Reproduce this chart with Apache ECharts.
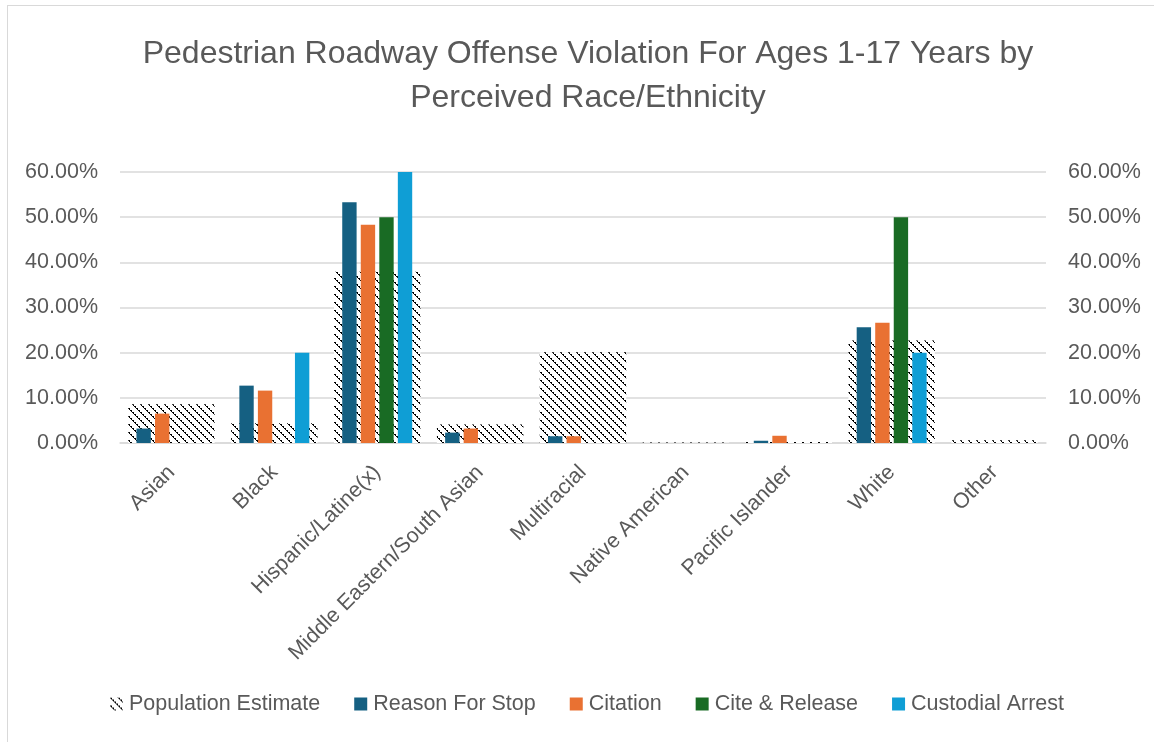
<!DOCTYPE html>
<html><head><meta charset="utf-8">
<script src="https://cdn.jsdelivr.net/npm/echarts@6/dist/echarts.min.js"></script>
<style>
html,body{margin:0;padding:0;background:#fff;overflow:hidden;width:1154px;height:742px}
#frame{position:absolute;left:7px;top:5px;width:1300px;height:900px;border:1px solid #d9d9d9;box-sizing:border-box}
#c{position:absolute;left:0;top:0;width:1154px;height:742px}
</style>
</head><body><div id="frame"></div><div id="c"></div>
<script>
const categories = ['Asian','Black','Hispanic/Latine(x)','Middle Eastern/South Asian','Multiracial','Native American','Pacific Islander','White','Other'];
const populationEstimate = [8.6, 4.4, 37.9, 4.1, 20.1, 0.1, 0.2, 22.7, 0.6];
const reasonForStop     = [3.2, 12.7, 53.3, 2.3, 1.5, 0, 0.5, 25.6, 0];
const citation          = [6.5, 11.6, 48.3, 3.2, 1.5, 0, 1.6, 26.6, 0];
const citeRelease       = [0, 0, 50, 0, 0, 0, 0, 50, 0];
const custodialArrest   = [0, 20, 60, 0, 0, 0, 0, 20, 0];
const seriesNames = ['Population Estimate','Reason For Stop','Citation','Cite & Release','Custodial Arrest'];
const titleText = 'Pedestrian Roadway Offense Violation For Ages 1-17 Years by\nPerceived Race/Ethnicity';

// hatch pattern (dark downward diagonal)
const pc = document.createElement('canvas');
pc.width = 8; pc.height = 8;
const ctx = pc.getContext('2d');
ctx.fillStyle = '#fff'; ctx.fillRect(0,0,8,8);
ctx.fillStyle = '#000';
for (let i = 0; i < 8; i++) {
  ctx.fillRect(i, i, 1, 1);
  if (i % 2 === 0) ctx.fillRect((i + 1) % 8, i, 1, 1);
}
const hatch = { image: pc, repeat: 'repeat' };

const font = 'Liberation Sans, Arial, sans-serif';
const txt = '#595959';
const chart = echarts.init(document.getElementById('c'), null, {renderer:'canvas'});
const yAxisCommon = {
  type: 'value', min: 0, max: 60, interval: 10,
  axisLine: {show:false}, axisTick: {show:false},
  axisLabel: {color: txt, fontSize: 21.5, fontFamily: font, formatter: v => v.toFixed(2) + '%', margin: 22}
};
chart.setOption({
  animation: false,
  textStyle: {fontFamily: font},
  title: {
    text: titleText, left: 583, top: 27, textAlign: 'center',
    textStyle: {fontSize: 32, fontWeight: 'normal', color: txt, fontFamily: font, lineHeight: 44, align: 'center'}
  },
  legend: {
    data: seriesNames, bottom: 22, left: 105, itemWidth: 13, itemHeight: 13, itemGap: 34,
    icon: 'rect',
    textStyle: {color: txt, fontSize: 21.5, fontFamily: font, padding: [0, 0, 0, 1]}
  },
  grid: {left: 120, right: 108, top: 172, bottom: 299, containLabel: false},
  xAxis: [
    {type: 'category', data: categories,
     axisLine: {show: true, lineStyle: {color: '#d9d9d9', width: 1.5}}, axisTick: {show: false},
     axisLabel: {interval: 0, rotate: 45, color: txt, fontSize: 21.5, fontFamily: font, margin: 26}},
    {type: 'category', data: categories, show: false}
  ],
  yAxis: [
    Object.assign({}, yAxisCommon, {position: 'left', splitLine: {lineStyle: {color: '#d9d9d9', width: 1.5}}}),
    Object.assign({}, yAxisCommon, {position: 'right', splitLine: {show: false}})
  ],
  series: [
    {name: seriesNames[0], type: 'bar', xAxisIndex: 1, yAxisIndex: 1, data: populationEstimate,
     barWidth: '84%', itemStyle: {color: hatch}, z: 1},
    {name: seriesNames[1], type: 'bar', data: reasonForStop, itemStyle: {color: '#156082'}, barGap: '29%', barCategoryGap: '32%', z: 3},
    {name: seriesNames[2], type: 'bar', data: citation, itemStyle: {color: '#E97132'}, z: 3},
    {name: seriesNames[3], type: 'bar', data: citeRelease, itemStyle: {color: '#196B24'}, z: 3},
    {name: seriesNames[4], type: 'bar', data: custodialArrest, itemStyle: {color: '#0F9ED5'}, z: 3}
  ]
});
</script>
</body></html>
